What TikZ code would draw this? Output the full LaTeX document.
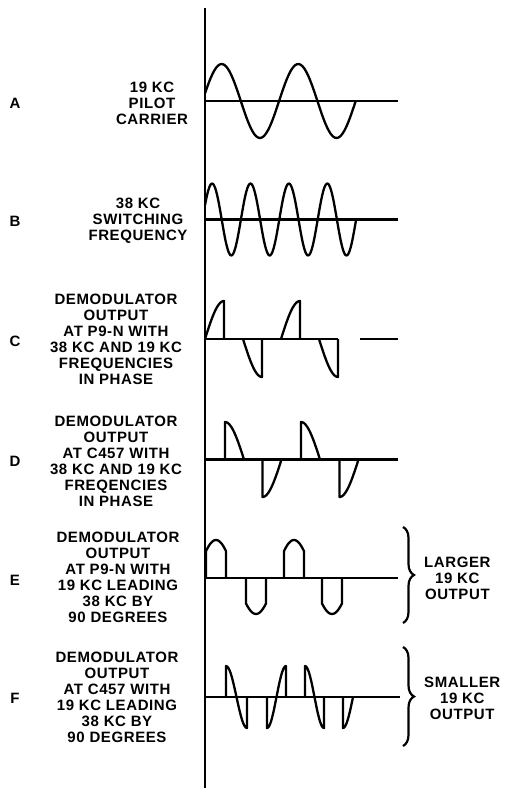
\documentclass[tikz,border=0pt]{standalone}
\usepackage{fontspec}
\newfontfamily\leroyfont[LetterSpace=4]{Liberation Sans}
\usetikzlibrary{decorations.pathreplacing}

\begin{document}
\begin{tikzpicture}[x=1pt,y=-1pt,
    wave/.style={line width=2.3pt, line join=round},
    axisline/.style={line width=2.8pt},
    caption/.style={font={\leroyfont\bfseries\fontsize{15}{16}\selectfont}, align=center, inner sep=0pt},
    bracket/.style={line width=2.2pt, decorate, decoration={brace, amplitude=11pt}}]
  \useasboundingbox (0,0) rectangle (508,788);
  \draw[axisline] (205,8) -- (205,788);

  \foreach \n/\y in {A/103,B/221.5,C/341.5,D/461.5,E/580,F/698}
    \node[caption] (lbl\n) at (15,\y) {\n};

  \node[caption] (descA) at (152,103) {19 KC\\PILOT\\CARRIER};
  \node[caption] (descB) at (138,221) {38 KC\\SWITCHING\\FREQUENCY};
  \node[caption] (descC) at (116,339.5) {DEMODULATOR\\OUTPUT\\AT P9-N WITH\\38 KC AND 19 KC\\FREQUENCIES\\IN PHASE};
  \node[caption] (descD) at (116,461) {DEMODULATOR\\OUTPUT\\AT C457 WITH\\38 KC AND 19 KC\\FREQENCIES\\IN PHASE};
  \node[caption] (descE) at (118,577) {DEMODULATOR\\OUTPUT\\AT P9-N WITH\\19 KC LEADING\\38 KC BY\\90 DEGREES};
  \node[caption] (descF) at (117,697) {DEMODULATOR\\OUTPUT\\AT C457 WITH\\19 KC LEADING\\38 KC BY\\90 DEGREES};

  % A
  \draw[wave] (205,101) -- (398,101);
  \draw[wave] plot[domain=12:720, samples=80] ({202.5+\x/360*76.6},{101-37*sin(\x)});
  % B
  \draw[wave] (205,219.5) -- (398,219.5);
  \draw[wave] plot[domain=24:1440, samples=140] ({202.5+\x/360*38.4},{219.5-36*sin(\x)});

  % C
  \draw[wave] (205,339) -- (338,339) (360,339) -- (398,339);
  \foreach \a [evaluate=\a as \e using \a+19] in {205,281}
    \draw[wave] plot[domain=\a:\e, samples=20] (\x,{339-38*sin(90*(\x-\a)/19)}) -- (\e,339);
  \foreach \a [evaluate=\a as \e using \a+19] in {243,319}
    \draw[wave] plot[domain=\a:\e, samples=20] (\x,{339+38*sin(90*(\x-\a)/19)}) -- (\e,339);

  % D
  \draw[wave] (205,459.5) -- (398,459.5);
  \foreach \a [evaluate=\a as \e using \a+19] in {225,301}
    \draw[wave] (\a,459.5) -- plot[domain=\a:\e, samples=20] (\x,{459.5-37.5*cos(90*(\x-\a)/19)});
  \foreach \a [evaluate=\a as \e using \a+19] in {262.5,339.5}
    \draw[wave] (\a,459.5) -- plot[domain=\a:\e, samples=20] (\x,{459.5+37.5*cos(90*(\x-\a)/19)});

  % E
  \draw[wave] (205,578) -- (398,578);
  \foreach \a [evaluate=\a as \e using \a+20] in {206,284}
    \draw[wave] (\a,578) -- plot[domain=\a:\e, samples=20] (\x,{578-38*sin(45+4.5*(\x-\a))}) -- (\e,578);
  \foreach \a [evaluate=\a as \e using \a+20] in {246,322}
    \draw[wave] (\a,578) -- plot[domain=\a:\e, samples=20] (\x,{578+36*sin(45+4.5*(\x-\a))}) -- (\e,578);

  % F
  \draw[wave] (205,697) -- (400,697);
  \draw[wave] (226,697) -- plot[domain=226:247, samples=20] (\x,{697-31*cos(180*(\x-226)/21)}) -- (247,697);
  \draw[wave] (267,697) -- plot[domain=267:286, samples=20] (\x,{697+31*cos(180*(\x-267)/19)}) -- (286,697);
  \draw[wave] (305,697) -- plot[domain=305:324, samples=20] (\x,{697-31*cos(180*(\x-305)/19)}) -- (324,697);
  \draw[wave] (343,697) -- plot[domain=343:353, samples=12] (\x,{697+31*cos(90*(\x-343)/10)});

  \draw[bracket] (403,527) -- (403,623);
  \draw[bracket] (403,647) -- (403,746);
  \node[caption, anchor=west] (larger) at (424,578) {LARGER\\19 KC\\OUTPUT};
  \node[caption, anchor=west] (smaller) at (424,698) {SMALLER\\19 KC\\OUTPUT};
\end{tikzpicture}
\end{document}
